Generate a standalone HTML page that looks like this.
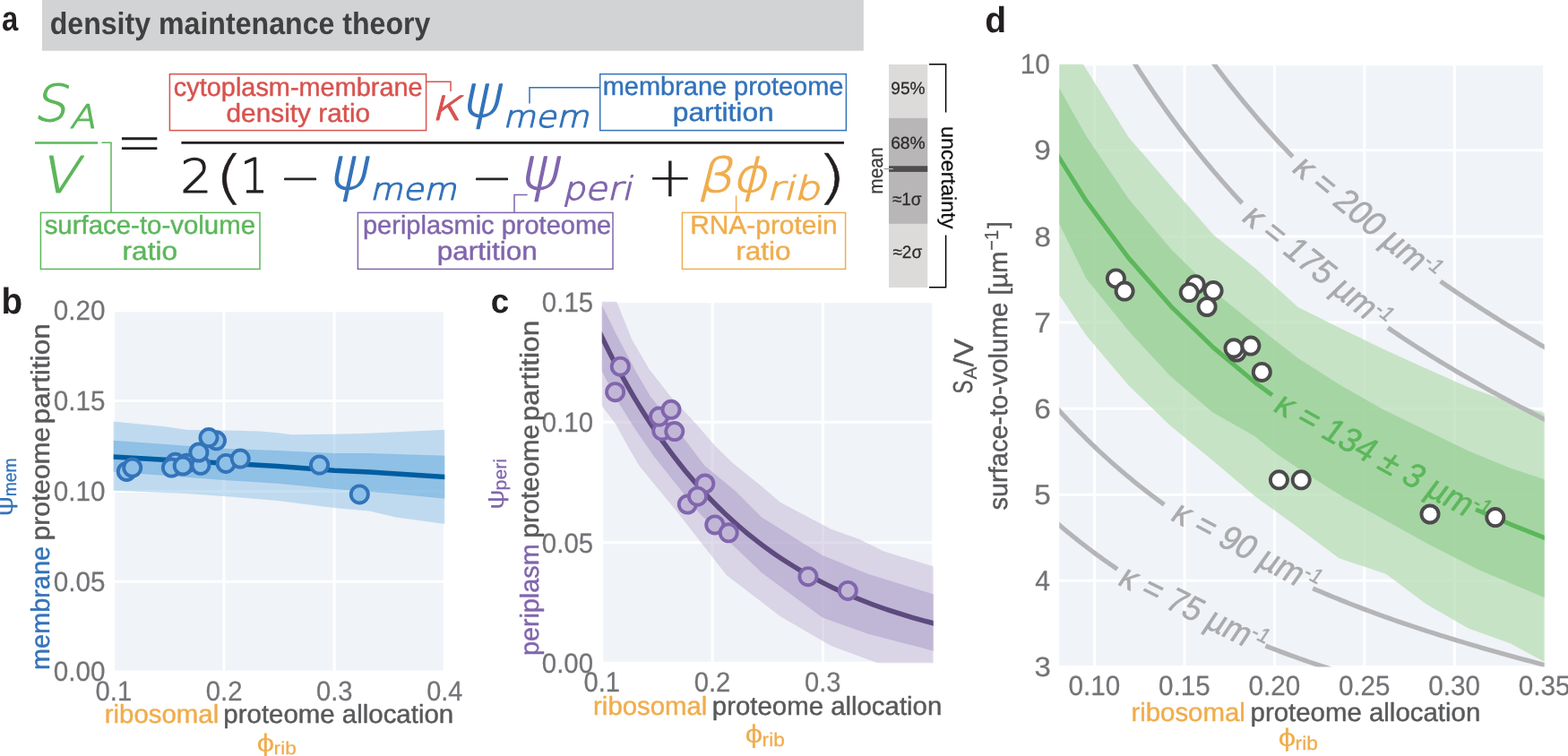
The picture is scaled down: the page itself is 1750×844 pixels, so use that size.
<!DOCTYPE html>
<html lang="en">
<head>
<meta charset="utf-8">
<title>density maintenance theory</title>
<style>html,body{margin:0;padding:0;background:#fff;overflow:hidden}svg{display:block}</style>
</head>
<body>
<svg width="1750" height="844" viewBox="0 0 1750 844">
<rect width="1750" height="844" fill="#ffffff"/>
<rect x="47" y="0" width="916.8" height="56.7" fill="#d1d3d4"/>
<rect x="189.4" y="82.7" width="286.20" height="62.90" fill="none" stroke="#d8534f" stroke-width="1.5"/>
<rect x="669.7" y="82.7" width="274.70" height="62.90" fill="none" stroke="#3373ba" stroke-width="1.5"/>
<rect x="45.4" y="237.4" width="244.60" height="63.00" fill="none" stroke="#5cb75b" stroke-width="1.5"/>
<rect x="399.4" y="237.4" width="284.60" height="63.00" fill="none" stroke="#8066ad" stroke-width="1.5"/>
<rect x="761.4" y="237.4" width="182.20" height="63.00" fill="none" stroke="#f0ad4d" stroke-width="1.5"/>
<path d="M475.6 91.3H503V102" fill="none" stroke="#d8534f" stroke-width="1.5" />
<path d="M591 115.4V97.8H669.7" fill="none" stroke="#3373ba" stroke-width="1.5" />
<path d="M113.4 159.2H124V237.4" fill="none" stroke="#5cb75b" stroke-width="1.5" />
<path d="M588.6 217.4H574V237.4" fill="none" stroke="#8066ad" stroke-width="1.5" />
<path d="M821.6 218.4V237.4" fill="none" stroke="#f0ad4d" stroke-width="1.5" />
<path d="M39 159.4H109" fill="none" stroke="#5cb75b" stroke-width="2.5" />
<path d="M202.4 159.4H942" fill="none" stroke="#231f20" stroke-width="2.6" />
<rect x="992" y="71.9" width="43.2" height="249.1" fill="#dcdbda"/>
<rect x="992" y="131.8" width="43.2" height="118" fill="#b8b6b7"/>
<rect x="992" y="185.3" width="43.2" height="6.6" fill="#4d4d4d"/>
<path d="M986.6 188.6H992" fill="none" stroke="#8a8a8a" stroke-width="1" />
<path d="M992 188.6H996.8" fill="none" stroke="#cfcfcf" stroke-width="1" />
<path d="M1037 71.8H1055.6V125.5" fill="none" stroke="#000" stroke-width="1.5" />
<path d="M1055.6 262.6V320.8H1037" fill="none" stroke="#000" stroke-width="1.5" />
<rect x="126.7" y="346.8" width="369.60" height="403.20" fill="#f0f3f7"/>
<path d="M126.7 345.5V751.3M249.9 345.5V751.3M373.1 345.5V751.3M496.3 345.5V751.3M125.4 750H497.6M125.4 649.2H497.6M125.4 548.4H497.6M125.4 447.6H497.6M125.4 346.8H497.6" stroke="#ffffff" stroke-width="3.0" fill="none"/>
<clipPath id="cl1"><rect x="126.7" y="346.8" width="369.60" height="403.20"/></clipPath>
<g clip-path="url(#cl1)">
<path d="M126 470.5L184 476.2L209.5 480.1L250 480.5L290.6 481.6L310 483.3L325 485.2L373 484.8L412 483.7L497 479.7L497 585L442 577.5L412.3 570.5L373 566.9L310 559L250 554L209 550.9L126 547.7Z" fill="#8ec1e8" fill-opacity="0.5"/>
<path d="M126 491.8L250 500.8L310 502.9L373 506.1L412 506.1L497 508.7L497 556.8L438 550.9L373 546L310 539.8L250 536L126 526.4Z" fill="#5fa6db" fill-opacity="0.5"/>
<path d="M126 509.9L310 520.6L373 525.3L412.3 527L497 532.5" fill="none" stroke="#005da2" stroke-width="5.5" stroke-linejoin="round" />
<circle cx="141.3" cy="526.4" r="9.55" fill="#8ec1e8" stroke="#3373ba" stroke-width="3.9"/>
<circle cx="147.7" cy="522.1" r="9.55" fill="#8ec1e8" stroke="#3373ba" stroke-width="3.9"/>
<circle cx="195.7" cy="516.3" r="9.55" fill="#8ec1e8" stroke="#3373ba" stroke-width="3.9"/>
<circle cx="191.4" cy="522.1" r="9.55" fill="#8ec1e8" stroke="#3373ba" stroke-width="3.9"/>
<circle cx="208.5" cy="517.2" r="9.55" fill="#8ec1e8" stroke="#3373ba" stroke-width="3.9"/>
<circle cx="204.2" cy="520" r="9.55" fill="#8ec1e8" stroke="#3373ba" stroke-width="3.9"/>
<circle cx="224" cy="519.3" r="9.55" fill="#8ec1e8" stroke="#3373ba" stroke-width="3.9"/>
<circle cx="221.9" cy="505" r="9.55" fill="#8ec1e8" stroke="#3373ba" stroke-width="3.9"/>
<circle cx="241.5" cy="491.8" r="9.55" fill="#8ec1e8" stroke="#3373ba" stroke-width="3.9"/>
<circle cx="233" cy="488.6" r="9.55" fill="#8ec1e8" stroke="#3373ba" stroke-width="3.9"/>
<circle cx="252.2" cy="517.4" r="9.55" fill="#8ec1e8" stroke="#3373ba" stroke-width="3.9"/>
<circle cx="268.2" cy="512.1" r="9.55" fill="#8ec1e8" stroke="#3373ba" stroke-width="3.9"/>
<circle cx="356.5" cy="519.1" r="9.55" fill="#8ec1e8" stroke="#3373ba" stroke-width="3.9"/>
<circle cx="401.3" cy="551.9" r="9.55" fill="#8ec1e8" stroke="#3373ba" stroke-width="3.9"/>
</g>
<rect x="671.8" y="336.8" width="369.90" height="403.50" fill="#f0f3f7"/>
<path d="M671.8 335.5V741.6M795.1 335.5V741.6M918.4 335.5V741.6M1041.7 335.5V741.6M670.5 740.3H1043M670.5 605.8H1043M670.5 471.3H1043M670.5 336.8H1043" stroke="#ffffff" stroke-width="3.0" fill="none"/>
<clipPath id="cl2"><rect x="671.8" y="336.8" width="369.90" height="403.50"/></clipPath>
<g clip-path="url(#cl2)">
<path d="M671 300L688.7 337.9L705.5 379.5L724.6 412.2L748.3 442.5L777.5 474L797.8 497.5L817 516.3L850 543L870.7 560.7L927 590.4L959.6 602.2L986.3 615.6L1042 632.4L1042 760L977.4 739.4L927 720.7L870.7 688.1L850 671.9L811 642.2L757.8 574L713.4 520L700 497L687.5 474L671 452Z" fill="#c2b6d6" fill-opacity="0.5"/>
<path d="M671 339L687.5 372.8L710 415.5L725.8 442.5L761.8 487.6L786.5 520L820 547.4L850 577.6L918 620L968.5 640.7L1042 663.6L1042 726.7L968.5 707.4L918 689.6L850 639.3L837.8 627.4L781.5 574L730.3 510L710 480.8L687.5 444.8L671 413Z" fill="#a897c5" fill-opacity="0.5"/>
<path d="M669.33 371.21L675.69 384.29L682.04 396.9L688.39 409.06L694.75 420.8L701.1 432.12L707.45 443.03L713.81 453.56L720.16 463.72L726.51 473.52L732.86 482.97L739.22 492.09L745.57 500.88L751.92 509.36L758.28 517.54L764.63 525.43L770.98 533.04L777.34 540.39L783.69 547.47L790.04 554.3L796.4 560.89L802.75 567.24L809.1 573.38L815.45 579.29L821.81 584.99L828.16 590.49L834.51 595.8L840.87 600.92L847.22 605.86L853.57 610.62L859.93 615.21L866.28 619.65L872.63 623.92L878.99 628.04L885.34 632.02L891.69 635.85L898.05 639.55L904.4 643.12L910.75 646.57L917.1 649.89L923.46 653.09L929.81 656.18L936.16 659.16L942.52 662.03L948.87 664.81L955.22 667.48L961.58 670.06L967.93 672.55L974.28 674.95L980.64 677.26L986.99 679.5L993.34 681.65L999.69 683.73L1006.05 685.73L1012.4 687.67L1018.75 689.53L1025.11 691.33L1031.46 693.06L1037.81 694.74L1044.17 696.35" fill="none" stroke="#5d4a7e" stroke-width="5.5" stroke-linejoin="round" />
<circle cx="686.6" cy="437.7" r="9.55" fill="#c2b6d6" stroke="#8066ad" stroke-width="3.9"/>
<circle cx="692.3" cy="409.2" r="9.55" fill="#c2b6d6" stroke="#8066ad" stroke-width="3.9"/>
<circle cx="738.8" cy="480.9" r="9.55" fill="#c2b6d6" stroke="#8066ad" stroke-width="3.9"/>
<circle cx="735.5" cy="465.1" r="9.55" fill="#c2b6d6" stroke="#8066ad" stroke-width="3.9"/>
<circle cx="749" cy="457.3" r="9.55" fill="#c2b6d6" stroke="#8066ad" stroke-width="3.9"/>
<circle cx="752.8" cy="481.6" r="9.55" fill="#c2b6d6" stroke="#8066ad" stroke-width="3.9"/>
<circle cx="767.3" cy="563.1" r="9.55" fill="#c2b6d6" stroke="#8066ad" stroke-width="3.9"/>
<circle cx="786.8" cy="540" r="9.55" fill="#c2b6d6" stroke="#8066ad" stroke-width="3.9"/>
<circle cx="778.5" cy="554.2" r="9.55" fill="#c2b6d6" stroke="#8066ad" stroke-width="3.9"/>
<circle cx="797.8" cy="585.9" r="9.55" fill="#c2b6d6" stroke="#8066ad" stroke-width="3.9"/>
<circle cx="813.2" cy="594.8" r="9.55" fill="#c2b6d6" stroke="#8066ad" stroke-width="3.9"/>
<circle cx="901.9" cy="643.7" r="9.55" fill="#c2b6d6" stroke="#8066ad" stroke-width="3.9"/>
<circle cx="946.3" cy="659.4" r="9.55" fill="#c2b6d6" stroke="#8066ad" stroke-width="3.9"/>
</g>
<rect x="1182.3" y="71.8" width="541.40" height="672.60" fill="#f0f3f7"/>
<path d="M1221.6 70.5V745.7M1322.02 70.5V745.7M1422.44 70.5V745.7M1522.86 70.5V745.7M1623.28 70.5V745.7M1723.7 70.5V745.7M1181 744.4H1725M1181 648.31H1725M1181 552.22H1725M1181 456.13H1725M1181 360.04H1725M1181 263.95H1725M1181 167.86H1725M1181 71.77H1725" stroke="#ffffff" stroke-width="3.0" fill="none"/>
<clipPath id="cl3"><rect x="1182.3" y="71.8" width="541.40" height="672.60"/></clipPath>
<g clip-path="url(#cl3)">
<path d="M1165 0L1182.3 28L1208.6 71.2L1259.6 153.3L1306.9 208L1354.2 262L1401.5 300L1448.8 343L1496 366.5L1543.4 389.5L1590.7 411L1638 432L1685.3 449L1726 462L1726 740L1686 718.5L1638.8 701.6L1591.5 674.3L1546.8 640.7L1494.5 623.3L1448.8 589L1400 553.6L1354 514.6L1305.6 474.8L1259.6 430.3L1212.3 374.4L1182.4 329.6L1165 303Z" fill="#b8ddb6" fill-opacity="0.75"/>
<path d="M1165 68L1182.3 98.6L1212.3 152L1259.6 222L1306.9 278L1354.2 325L1401.5 363L1448.8 400L1496 430L1543.4 457L1590.7 480L1638 503L1685.3 522.5L1726 536L1726 668L1650 636L1591.5 605.9L1499.5 554.9L1459.7 530L1424.9 506.7L1400 486.8L1352.8 460L1305.6 419.2L1259.6 369.4L1212.3 311L1182.4 250L1165 218Z" fill="#99d097" fill-opacity="0.75"/>
<path d="M1170 -273.82L1174.62 -262.1L1179.25 -250.58L1183.87 -239.26L1188.49 -228.14L1193.12 -217.2L1197.74 -206.46L1202.37 -195.89L1206.99 -185.51L1211.61 -175.29L1216.24 -165.25L1220.86 -155.38L1225.48 -145.67L1230.11 -136.12L1234.73 -126.73L1239.36 -117.49L1243.98 -108.41L1248.6 -99.47L1253.23 -90.67L1257.85 -82.02L1262.47 -73.51L1267.1 -65.13L1271.72 -56.89L1276.35 -48.77L1280.97 -40.79L1285.59 -32.93L1290.22 -25.19L1294.84 -17.57L1299.46 -10.08L1304.09 -2.69L1308.71 4.58L1313.34 11.74L1317.96 18.79L1322.58 25.73L1327.21 32.57L1331.83 39.31L1336.45 45.94L1341.08 52.48L1345.7 58.92L1350.33 65.27L1354.95 71.52L1359.57 77.69L1364.2 83.76L1368.82 89.75L1373.44 95.65L1378.07 101.47L1382.69 107.21L1387.32 112.86L1391.94 118.44L1396.56 123.94L1401.19 129.37L1405.81 134.72L1410.43 139.99L1415.06 145.2L1419.68 150.33L1424.31 155.4L1428.93 160.4L1433.55 165.34L1438.18 170.21L1442.8 175.01" fill="none" stroke="#b5b5b7" stroke-width="5.2" stroke-linejoin="round" />
<path d="M1607.6 314.02L1609.67 315.46L1611.75 316.9L1613.82 318.33L1615.9 319.75L1617.97 321.17L1620.05 322.59L1622.12 323.99L1624.2 325.4L1626.27 326.8L1628.35 328.19L1630.42 329.58L1632.49 330.96L1634.57 332.34L1636.64 333.71L1638.72 335.08L1640.79 336.44L1642.87 337.8L1644.94 339.15L1647.02 340.5L1649.09 341.85L1651.17 343.19L1653.24 344.52L1655.32 345.85L1657.39 347.18L1659.46 348.5L1661.54 349.82L1663.61 351.13L1665.69 352.44L1667.76 353.74L1669.84 355.04L1671.91 356.34L1673.99 357.63L1676.06 358.92L1678.14 360.21L1680.21 361.49L1682.28 362.76L1684.36 364.04L1686.43 365.31L1688.51 366.57L1690.58 367.83L1692.66 369.09L1694.73 370.35L1696.81 371.6L1698.88 372.85L1700.96 374.09L1703.03 375.33L1705.11 376.57L1707.18 377.81L1709.25 379.04L1711.33 380.27L1713.4 381.49L1715.48 382.71L1717.55 383.93L1719.63 385.15L1721.7 386.36L1723.78 387.57L1725.85 388.78L1727.93 389.98L1730 391.19" fill="none" stroke="#b5b5b7" stroke-width="5.2" stroke-linejoin="round" />
<path d="M1170 -110.51L1173.67 -102.36L1177.34 -94.32L1181 -86.39L1184.67 -78.58L1188.34 -70.86L1192.01 -63.26L1195.67 -55.75L1199.34 -48.35L1203.01 -41.05L1206.68 -33.84L1210.35 -26.73L1214.01 -19.72L1217.68 -12.8L1221.35 -5.97L1225.02 0.77L1228.68 7.42L1232.35 13.98L1236.02 20.46L1239.69 26.85L1243.36 33.16L1247.02 39.39L1250.69 45.54L1254.36 51.61L1258.03 57.6L1261.69 63.52L1265.36 69.36L1269.03 75.12L1272.7 80.82L1276.37 86.44L1280.03 91.99L1283.7 97.47L1287.37 102.88L1291.04 108.23L1294.71 113.51L1298.37 118.73L1302.04 123.88L1305.71 128.97L1309.38 133.99L1313.04 138.96L1316.71 143.87L1320.38 148.71L1324.05 153.5L1327.72 158.23L1331.38 162.91L1335.05 167.53L1338.72 172.1L1342.39 176.61L1346.05 181.07L1349.72 185.47L1353.39 189.83L1357.06 194.14L1360.73 198.39L1364.39 202.6L1368.06 206.76L1371.73 210.87L1375.4 214.94L1379.06 218.96L1382.73 222.94L1386.4 226.87" fill="none" stroke="#b5b5b7" stroke-width="5.2" stroke-linejoin="round" />
<path d="M1549 365.9L1552.07 368.01L1555.14 370.1L1558.2 372.18L1561.27 374.25L1564.34 376.3L1567.41 378.33L1570.47 380.36L1573.54 382.37L1576.61 384.37L1579.68 386.35L1582.75 388.32L1585.81 390.28L1588.88 392.23L1591.95 394.16L1595.02 396.08L1598.08 397.99L1601.15 399.89L1604.22 401.78L1607.29 403.66L1610.36 405.52L1613.42 407.38L1616.49 409.22L1619.56 411.06L1622.63 412.88L1625.69 414.69L1628.76 416.49L1631.83 418.29L1634.9 420.07L1637.97 421.84L1641.03 423.61L1644.1 425.36L1647.17 427.11L1650.24 428.85L1653.31 430.58L1656.37 432.3L1659.44 434.01L1662.51 435.71L1665.58 437.41L1668.64 439.09L1671.71 440.77L1674.78 442.44L1677.85 444.11L1680.92 445.77L1683.98 447.41L1687.05 449.06L1690.12 450.69L1693.19 452.32L1696.25 453.94L1699.32 455.56L1702.39 457.17L1705.46 458.77L1708.53 460.36L1711.59 461.95L1714.66 463.54L1717.73 465.12L1720.8 466.69L1723.86 468.25L1726.93 469.82L1730 471.37" fill="none" stroke="#b5b5b7" stroke-width="5.2" stroke-linejoin="round" />
<path d="M1170 444.75L1172.19 447.26L1174.39 449.76L1176.58 452.23L1178.77 454.68L1180.97 457.11L1183.16 459.52L1185.35 461.91L1187.55 464.29L1189.74 466.64L1191.93 468.97L1194.13 471.29L1196.32 473.58L1198.51 475.86L1200.71 478.12L1202.9 480.36L1205.09 482.58L1207.28 484.79L1209.48 486.97L1211.67 489.14L1213.86 491.3L1216.06 493.43L1218.25 495.55L1220.44 497.65L1222.64 499.74L1224.83 501.8L1227.02 503.86L1229.22 505.89L1231.41 507.91L1233.6 509.92L1235.8 511.9L1237.99 513.88L1240.18 515.83L1242.38 517.78L1244.57 519.7L1246.76 521.62L1248.96 523.51L1251.15 525.4L1253.34 527.26L1255.54 529.12L1257.73 530.96L1259.92 532.78L1262.12 534.59L1264.31 536.39L1266.5 538.18L1268.69 539.95L1270.89 541.7L1273.08 543.45L1275.27 545.18L1277.47 546.9L1279.66 548.6L1281.85 550.3L1284.05 551.97L1286.24 553.64L1288.43 555.3L1290.63 556.94L1292.82 558.57L1295.01 560.19L1297.21 561.79L1299.4 563.39" fill="none" stroke="#b5b5b7" stroke-width="5.2" stroke-linejoin="round" />
<path d="M1465.2 656.82L1469.69 658.77L1474.18 660.69L1478.66 662.6L1483.15 664.48L1487.64 666.34L1492.13 668.17L1496.62 669.99L1501.11 671.78L1505.59 673.56L1510.08 675.32L1514.57 677.05L1519.06 678.77L1523.55 680.47L1528.03 682.15L1532.52 683.81L1537.01 685.45L1541.5 687.08L1545.99 688.69L1550.47 690.28L1554.96 691.86L1559.45 693.42L1563.94 694.97L1568.43 696.5L1572.92 698.02L1577.4 699.52L1581.89 701.01L1586.38 702.48L1590.87 703.94L1595.36 705.39L1599.84 706.83L1604.33 708.25L1608.82 709.66L1613.31 711.06L1617.8 712.44L1622.28 713.82L1626.77 715.18L1631.26 716.53L1635.75 717.87L1640.24 719.2L1644.73 720.52L1649.21 721.84L1653.7 723.14L1658.19 724.43L1662.68 725.71L1667.17 726.98L1671.65 728.25L1676.14 729.51L1680.63 730.75L1685.12 731.99L1689.61 733.23L1694.09 734.45L1698.58 735.67L1703.07 736.88L1707.56 738.08L1712.05 739.28L1716.54 740.47L1721.02 741.65L1725.51 742.83L1730 744" fill="none" stroke="#b5b5b7" stroke-width="5.2" stroke-linejoin="round" />
<path d="M1170 575.4L1171.31 576.57L1172.61 577.73L1173.92 578.88L1175.23 580.03L1176.53 581.17L1177.84 582.31L1179.15 583.45L1180.45 584.57L1181.76 585.69L1183.07 586.81L1184.37 587.92L1185.68 589.03L1186.99 590.13L1188.29 591.22L1189.6 592.31L1190.91 593.39L1192.22 594.47L1193.52 595.54L1194.83 596.61L1196.14 597.68L1197.44 598.73L1198.75 599.79L1200.06 600.83L1201.36 601.88L1202.67 602.91L1203.98 603.95L1205.28 604.97L1206.59 606L1207.9 607.01L1209.2 608.03L1210.51 609.04L1211.82 610.04L1213.12 611.04L1214.43 612.03L1215.74 613.02L1217.04 614L1218.35 614.98L1219.66 615.96L1220.96 616.93L1222.27 617.9L1223.58 618.86L1224.88 619.81L1226.19 620.77L1227.5 621.71L1228.81 622.66L1230.11 623.6L1231.42 624.53L1232.73 625.46L1234.03 626.39L1235.34 627.31L1236.65 628.22L1237.95 629.14L1239.26 630.05L1240.57 630.95L1241.87 631.85L1243.18 632.75L1244.49 633.64L1245.79 634.53L1247.1 635.41" fill="none" stroke="#b5b5b7" stroke-width="5.2" stroke-linejoin="round" />
<path d="M1412.4 721.01L1417.78 723.12L1423.17 725.19L1428.55 727.23L1433.93 729.24L1439.32 731.22L1444.7 733.17L1450.08 735.1L1455.46 736.99L1460.85 738.85L1466.23 740.69L1471.61 742.5L1477 744.29L1482.38 746.05L1487.76 747.78L1493.15 749.49L1498.53 751.18L1503.91 752.85L1509.29 754.49L1514.68 756.11L1520.06 757.71L1525.44 759.29L1530.83 760.85L1536.21 762.38L1541.59 763.9L1546.98 765.4L1552.36 766.89L1557.74 768.35L1563.13 769.8L1568.51 771.23L1573.89 772.64L1579.27 774.04L1584.66 775.42L1590.04 776.79L1595.42 778.14L1600.81 779.47L1606.19 780.8L1611.57 782.11L1616.96 783.4L1622.34 784.69L1627.72 785.96L1633.11 787.21L1638.49 788.46L1643.87 789.7L1649.25 790.92L1654.64 792.13L1660.02 793.33L1665.4 794.53L1670.79 795.71L1676.17 796.88L1681.55 798.05L1686.94 799.2L1692.32 800.35L1697.7 801.48L1703.08 802.61L1708.47 803.74L1713.85 804.85L1719.23 805.96L1724.62 807.06L1730 808.15" fill="none" stroke="#b5b5b7" stroke-width="5.2" stroke-linejoin="round" />
<path d="M1170 156.67L1212.3 224.34L1259.6 288L1306.9 341.95L1354.2 388.03L1401.5 427.7L1419.9 441.1" fill="none" stroke="#5cb75b" stroke-width="5.0" stroke-linejoin="round" />
<path d="M1647 568.79L1685.3 585.07L1730 602.85" fill="none" stroke="#5cb75b" stroke-width="5.0" stroke-linejoin="round" />
<circle cx="1245.4" cy="310.9" r="9.55" fill="#ffffff" stroke="#4c4b4c" stroke-width="3.9"/>
<circle cx="1255.1" cy="325.1" r="9.55" fill="#ffffff" stroke="#4c4b4c" stroke-width="3.9"/>
<circle cx="1334.2" cy="317.7" r="9.55" fill="#ffffff" stroke="#4c4b4c" stroke-width="3.9"/>
<circle cx="1327.2" cy="326.6" r="9.55" fill="#ffffff" stroke="#4c4b4c" stroke-width="3.9"/>
<circle cx="1354.1" cy="324.6" r="9.55" fill="#ffffff" stroke="#4c4b4c" stroke-width="3.9"/>
<circle cx="1347.1" cy="342.5" r="9.55" fill="#ffffff" stroke="#4c4b4c" stroke-width="3.9"/>
<circle cx="1380.2" cy="393" r="9.55" fill="#ffffff" stroke="#4c4b4c" stroke-width="3.9"/>
<circle cx="1377" cy="388.8" r="9.55" fill="#ffffff" stroke="#4c4b4c" stroke-width="3.9"/>
<circle cx="1395.9" cy="386.1" r="9.55" fill="#ffffff" stroke="#4c4b4c" stroke-width="3.9"/>
<circle cx="1408.3" cy="415.4" r="9.55" fill="#ffffff" stroke="#4c4b4c" stroke-width="3.9"/>
<circle cx="1427.4" cy="535.8" r="9.55" fill="#ffffff" stroke="#4c4b4c" stroke-width="3.9"/>
<circle cx="1452.2" cy="535.8" r="9.55" fill="#ffffff" stroke="#4c4b4c" stroke-width="3.9"/>
<circle cx="1596" cy="574" r="9.55" fill="#ffffff" stroke="#4c4b4c" stroke-width="3.9"/>
<circle cx="1668.8" cy="577.6" r="9.55" fill="#ffffff" stroke="#4c4b4c" stroke-width="3.9"/>
</g>
<g xml:space="preserve" text-rendering="geometricPrecision">
<text transform="translate(2.06 33.78) scale(0.7995 0.9464)" font-family="Liberation Sans, sans-serif" font-size="41" fill="#231f20" font-weight="bold">a</text>
<text transform="translate(1.52 349.56) scale(0.9437 0.9943)" font-family="Liberation Sans, sans-serif" font-size="41" fill="#231f20" font-weight="bold">b</text>
<text transform="translate(547.83 349.18) scale(0.8961 0.9198)" font-family="Liberation Sans, sans-serif" font-size="41" fill="#231f20" font-weight="bold">c</text>
<text transform="translate(1099.16 36.14) scale(0.9520 0.9836)" font-family="Liberation Sans, sans-serif" font-size="41" fill="#231f20" font-weight="bold">d</text>
<text transform="translate(55.65 38) scale(0.9177 0.9901)" font-family="Liberation Sans, sans-serif" font-size="35" fill="#404041" font-weight="bold">density maintenance theory</text>
<text transform="translate(193.84 107.1) scale(0.9963 1.0000)" font-family="Liberation Sans, sans-serif" font-size="29" fill="#d8534f" stroke="#d8534f" stroke-width="0.45" stroke-linejoin="round">cytoplasm-membrane</text>
<text transform="translate(252.52 136.2) scale(1.0275 1.0000)" font-family="Liberation Sans, sans-serif" font-size="29" fill="#d8534f" stroke="#d8534f" stroke-width="0.45" stroke-linejoin="round">density ratio</text>
<text transform="translate(672.77 105.5) scale(0.9977 1.0000)" font-family="Liberation Sans, sans-serif" font-size="29" fill="#3373ba" stroke="#3373ba" stroke-width="0.45" stroke-linejoin="round">membrane proteome</text>
<text transform="translate(750.72 134.5) scale(1.0954 1.0000)" font-family="Liberation Sans, sans-serif" font-size="29" fill="#3373ba" stroke="#3373ba" stroke-width="0.45" stroke-linejoin="round">partition</text>
<text transform="translate(49.66 261) scale(1.0143 1.0000)" font-family="Liberation Sans, sans-serif" font-size="29" fill="#5cb75b" stroke="#5cb75b" stroke-width="0.45" stroke-linejoin="round">surface-to-volume</text>
<text transform="translate(136.55 290.4) scale(1.0910 1.0000)" font-family="Liberation Sans, sans-serif" font-size="29" fill="#5cb75b" stroke="#5cb75b" stroke-width="0.45" stroke-linejoin="round">ratio</text>
<text transform="translate(404.98 261) scale(0.9999 1.0000)" font-family="Liberation Sans, sans-serif" font-size="29" fill="#8066ad" stroke="#8066ad" stroke-width="0.45" stroke-linejoin="round">periplasmic proteome</text>
<text transform="translate(487.64 290.4) scale(1.0864 1.0000)" font-family="Liberation Sans, sans-serif" font-size="29" fill="#8066ad" stroke="#8066ad" stroke-width="0.45" stroke-linejoin="round">partition</text>
<text transform="translate(770.15 261) scale(1.0315 1.0000)" font-family="Liberation Sans, sans-serif" font-size="29" fill="#f0ad4d" stroke="#f0ad4d" stroke-width="0.45" stroke-linejoin="round">RNA-protein</text>
<text transform="translate(821.15 290.4) scale(1.0910 1.0000)" font-family="Liberation Sans, sans-serif" font-size="29" fill="#f0ad4d" stroke="#f0ad4d" stroke-width="0.45" stroke-linejoin="round">ratio</text>
<text transform="translate(36.97 135.02) scale(0.9722 0.9424) skewX(-12)" font-family="DejaVu Sans, sans-serif" font-size="60" fill="#5cb75b" font-weight="200" stroke="#5cb75b" stroke-width="1.25" stroke-linejoin="round">S</text>
<text transform="translate(77.66 142.76) scale(0.9763 0.8692) skewX(-12)" font-family="DejaVu Sans, sans-serif" font-size="42" fill="#5cb75b" font-weight="200" stroke="#5cb75b" stroke-width="1.4" stroke-linejoin="round">A</text>
<text transform="translate(44.27 215.32) scale(1.0185 0.9337) skewX(-12)" font-family="DejaVu Sans, sans-serif" font-size="60" fill="#5cb75b" font-weight="200" stroke="#5cb75b" stroke-width="1.25" stroke-linejoin="round">V</text>
<text transform="translate(129.31 181.77) scale(1.0497 1.1591)" font-family="DejaVu Sans, sans-serif" font-size="60" fill="#231f20" font-weight="200">=</text>
<text transform="translate(201.14 214.96) scale(0.9222 0.8706)" font-family="DejaVu Sans, sans-serif" font-size="60" fill="#231f20" font-weight="200" stroke="#231f20" stroke-width="1.25" stroke-linejoin="round">2</text>
<text transform="translate(238.86 220.14) scale(1.4509 1.0735)" font-family="DejaVu Sans, sans-serif" font-size="60" fill="#231f20" font-weight="200" stroke="#231f20" stroke-width="0.5" stroke-linejoin="round">(</text>
<text transform="translate(268.15 214.95) scale(0.8125 0.8892)" font-family="DejaVu Sans, sans-serif" font-size="60" fill="#231f20" font-weight="200" stroke="#231f20" stroke-width="1.25" stroke-linejoin="round">1</text>
<text transform="translate(311.68 212.74) scale(0.9278 0.6964)" font-family="DejaVu Sans, sans-serif" font-size="60" fill="#231f20" font-weight="200" stroke="#231f20" stroke-width="1.25" stroke-linejoin="round">−</text>
<text transform="translate(366.48 211.14) scale(1.0849 1.0970) skewX(-12)" font-family="DejaVu Sans, sans-serif" font-size="60" fill="#3373ba" font-weight="200" stroke="#3373ba" stroke-width="1.25" stroke-linejoin="round">ψ</text>
<text transform="translate(412.87 222.59) scale(0.8956 0.8085) skewX(-12)" font-family="DejaVu Sans, sans-serif" font-size="42" fill="#3373ba" font-weight="200" stroke="#3373ba" stroke-width="1.4" stroke-linejoin="round">mem</text>
<text transform="translate(525.68 212.74) scale(0.9278 0.6964)" font-family="DejaVu Sans, sans-serif" font-size="60" fill="#231f20" font-weight="200" stroke="#231f20" stroke-width="1.25" stroke-linejoin="round">−</text>
<text transform="translate(579.88 211.14) scale(1.0849 1.0970) skewX(-12)" font-family="DejaVu Sans, sans-serif" font-size="60" fill="#8066ad" font-weight="200" stroke="#8066ad" stroke-width="1.25" stroke-linejoin="round">ψ</text>
<text transform="translate(627.81 223.36) scale(0.9457 0.8575) skewX(-12)" font-family="DejaVu Sans, sans-serif" font-size="42" fill="#8066ad" font-weight="200" stroke="#8066ad" stroke-width="1.4" stroke-linejoin="round">peri</text>
<text transform="translate(721.45 219.34) scale(1.0473 1.0457)" font-family="DejaVu Sans, sans-serif" font-size="60" fill="#231f20" font-weight="200" stroke="#231f20" stroke-width="0.3" stroke-linejoin="round">+</text>
<text transform="translate(778.04 214.03) scale(1.0400 0.8747) skewX(-12)" font-family="DejaVu Sans, sans-serif" font-size="60" fill="#f0ad4d" font-weight="200" stroke="#f0ad4d" stroke-width="1.25" stroke-linejoin="round">β</text>
<text transform="translate(816.55 214.16) scale(1.0015 0.8644) skewX(-12)" font-family="DejaVu Sans, sans-serif" font-size="60" fill="#f0ad4d" font-weight="200" stroke="#f0ad4d" stroke-width="1.25" stroke-linejoin="round">ϕ</text>
<text transform="translate(855.52 222.53) scale(1.0652 0.8780) skewX(-12)" font-family="DejaVu Sans, sans-serif" font-size="42" fill="#f0ad4d" font-weight="200" stroke="#f0ad4d" stroke-width="1.4" stroke-linejoin="round">rib</text>
<text transform="translate(910.26 220.14) scale(1.5227 1.0740)" font-family="DejaVu Sans, sans-serif" font-size="60" fill="#231f20" font-weight="200" stroke="#231f20" stroke-width="0.5" stroke-linejoin="round">)</text>
<text transform="translate(480.49 133.79) scale(0.9739 0.8298) skewX(-12)" font-family="DejaVu Sans, sans-serif" font-size="60" fill="#d8534f" font-weight="200" stroke="#d8534f" stroke-width="1.25" stroke-linejoin="round">κ</text>
<text transform="translate(514.88 129.74) scale(1.0849 1.0970) skewX(-12)" font-family="DejaVu Sans, sans-serif" font-size="60" fill="#3373ba" font-weight="200" stroke="#3373ba" stroke-width="1.25" stroke-linejoin="round">ψ</text>
<text transform="translate(561.28 141.99) scale(0.8917 0.8085) skewX(-12)" font-family="DejaVu Sans, sans-serif" font-size="42" fill="#3373ba" font-weight="200" stroke="#3373ba" stroke-width="1.4" stroke-linejoin="round">mem</text>
<text transform="translate(994.33 105.1) scale(1.0058 1.0158)" font-family="Liberation Sans, sans-serif" font-size="19" fill="#2b2b2b" stroke="#2b2b2b" stroke-width="0.25" stroke-linejoin="round">95%</text>
<text transform="translate(994.14 165.7) scale(1.0135 1.0066)" font-family="Liberation Sans, sans-serif" font-size="19" fill="#2b2b2b" stroke="#2b2b2b" stroke-width="0.25" stroke-linejoin="round">68%</text>
<text transform="translate(995.89 228.7) scale(0.9981 1.0490)" font-family="Liberation Sans, sans-serif" font-size="19" fill="#2b2b2b" stroke="#2b2b2b" stroke-width="0.25" stroke-linejoin="round">≈1σ</text>
<text transform="translate(996.38 288.3) scale(1.0012 1.0364)" font-family="Liberation Sans, sans-serif" font-size="19" fill="#2b2b2b" stroke="#2b2b2b" stroke-width="0.25" stroke-linejoin="round">≈2σ</text>
<text transform="translate(984.6 216.83) rotate(-90) scale(0.9980 1.0519)" font-family="Liberation Sans, sans-serif" font-size="21" fill="#3c3c3c" stroke="#3c3c3c" stroke-width="0.25" stroke-linejoin="round">mean</text>
<text transform="translate(1051.3 141) rotate(90) scale(1.0169 1.0000)" font-family="Liberation Sans, sans-serif" font-size="23" fill="#111111" stroke="#111111" stroke-width="0.25" stroke-linejoin="round">uncertainty</text>
<text transform="translate(59.82 357.2) scale(1.0232 1.0635)" font-family="Liberation Sans, sans-serif" font-size="29" fill="#737477" stroke="#737477" stroke-width="0.25" stroke-linejoin="round">0.20</text>
<text transform="translate(59.81 458) scale(1.0246 1.0684)" font-family="Liberation Sans, sans-serif" font-size="29" fill="#737477" stroke="#737477" stroke-width="0.25" stroke-linejoin="round">0.15</text>
<text transform="translate(59.82 558.8) scale(1.0232 1.0658)" font-family="Liberation Sans, sans-serif" font-size="29" fill="#737477" stroke="#737477" stroke-width="0.25" stroke-linejoin="round">0.10</text>
<text transform="translate(59.81 659.6) scale(1.0246 1.0658)" font-family="Liberation Sans, sans-serif" font-size="29" fill="#737477" stroke="#737477" stroke-width="0.25" stroke-linejoin="round">0.05</text>
<text transform="translate(59.82 760.4) scale(1.0232 1.0658)" font-family="Liberation Sans, sans-serif" font-size="29" fill="#737477" stroke="#737477" stroke-width="0.25" stroke-linejoin="round">0.00</text>
<text transform="translate(106.53 781.7) scale(1.0096 1.0684)" font-family="Liberation Sans, sans-serif" font-size="29" fill="#737477" stroke="#737477" stroke-width="0.25" stroke-linejoin="round">0.1</text>
<text transform="translate(229.73 781.7) scale(1.0108 1.0635)" font-family="Liberation Sans, sans-serif" font-size="29" fill="#737477" stroke="#737477" stroke-width="0.25" stroke-linejoin="round">0.2</text>
<text transform="translate(352.94 781.7) scale(1.0060 1.0637)" font-family="Liberation Sans, sans-serif" font-size="29" fill="#737477" stroke="#737477" stroke-width="0.25" stroke-linejoin="round">0.3</text>
<text transform="translate(476.15 781.7) scale(0.9952 1.0684)" font-family="Liberation Sans, sans-serif" font-size="29" fill="#737477" stroke="#737477" stroke-width="0.25" stroke-linejoin="round">0.4</text>
<text transform="translate(116.78 807) scale(1.0132 1.0000)" font-family="Liberation Sans, sans-serif" font-size="29" fill="#f0ad4d" stroke="#f0ad4d" stroke-width="0.45" stroke-linejoin="round">ribosomal</text>
<text transform="translate(249.35 807) scale(1.0146 1.0000)" font-family="Liberation Sans, sans-serif" font-size="29" fill="#58595b" stroke="#58595b" stroke-width="0.45" stroke-linejoin="round">proteome allocation</text>
<text transform="translate(286.43 838.51) scale(1.2260 0.9815)" font-family="Liberation Sans, sans-serif" font-size="29" fill="#f0ad4d">ϕ</text>
<text transform="translate(305.61 842) scale(1.0810 0.9586)" font-family="Liberation Sans, sans-serif" font-size="21" fill="#f0ad4d" stroke="#f0ad4d" stroke-width="0.3" stroke-linejoin="round">rib</text>
<text transform="translate(55.3 747.92) rotate(-90) scale(0.9948 1.0000)" font-family="Liberation Sans, sans-serif" font-size="29" fill="#3373ba" stroke="#3373ba" stroke-width="0.45" stroke-linejoin="round">membrane</text>
<text transform="translate(55.3 603.48) rotate(-90) scale(1.0349 1.0000)" font-family="Liberation Sans, sans-serif" font-size="29" fill="#58595b" stroke="#58595b" stroke-width="0.45" stroke-linejoin="round">proteome</text>
<text transform="translate(55.3 473.16) rotate(-90) scale(1.0844 1.0000)" font-family="Liberation Sans, sans-serif" font-size="29" fill="#58595b" stroke="#58595b" stroke-width="0.45" stroke-linejoin="round">partition</text>
<text transform="translate(14.25 576.26) rotate(-90) scale(1.0816 0.9080)" font-family="Liberation Sans, sans-serif" font-size="29" fill="#3373ba">ψ</text>
<text transform="translate(17.9 554.28) rotate(-90) scale(0.9210 0.9646)" font-family="Liberation Sans, sans-serif" font-size="21" fill="#3373ba" stroke="#3373ba" stroke-width="0.3" stroke-linejoin="round">mem</text>
<text transform="translate(604.83 347.7) scale(1.0153 1.0684)" font-family="Liberation Sans, sans-serif" font-size="29" fill="#737477" stroke="#737477" stroke-width="0.25" stroke-linejoin="round">0.15</text>
<text transform="translate(604.83 482.2) scale(1.0140 1.0658)" font-family="Liberation Sans, sans-serif" font-size="29" fill="#737477" stroke="#737477" stroke-width="0.25" stroke-linejoin="round">0.10</text>
<text transform="translate(604.83 616.7) scale(1.0153 1.0658)" font-family="Liberation Sans, sans-serif" font-size="29" fill="#737477" stroke="#737477" stroke-width="0.25" stroke-linejoin="round">0.05</text>
<text transform="translate(604.83 751.2) scale(1.0140 1.0658)" font-family="Liberation Sans, sans-serif" font-size="29" fill="#737477" stroke="#737477" stroke-width="0.25" stroke-linejoin="round">0.00</text>
<text transform="translate(651.44 771.6) scale(1.0069 1.0734)" font-family="Liberation Sans, sans-serif" font-size="29" fill="#737477" stroke="#737477" stroke-width="0.25" stroke-linejoin="round">0.1</text>
<text transform="translate(774.73 771.6) scale(1.0082 1.0684)" font-family="Liberation Sans, sans-serif" font-size="29" fill="#737477" stroke="#737477" stroke-width="0.25" stroke-linejoin="round">0.2</text>
<text transform="translate(898.04 771.6) scale(1.0034 1.0686)" font-family="Liberation Sans, sans-serif" font-size="29" fill="#737477" stroke="#737477" stroke-width="0.25" stroke-linejoin="round">0.3</text>
<text transform="translate(662.09 797.9) scale(1.0116 1.0000)" font-family="Liberation Sans, sans-serif" font-size="29" fill="#f0ad4d" stroke="#f0ad4d" stroke-width="0.45" stroke-linejoin="round">ribosomal</text>
<text transform="translate(794.86 797.9) scale(1.0130 1.0000)" font-family="Liberation Sans, sans-serif" font-size="29" fill="#58595b" stroke="#58595b" stroke-width="0.45" stroke-linejoin="round">proteome allocation</text>
<text transform="translate(831.43 828.97) scale(1.2260 0.9889)" font-family="Liberation Sans, sans-serif" font-size="29" fill="#f0ad4d">ϕ</text>
<text transform="translate(850.61 832.9) scale(1.0810 1.0104)" font-family="Liberation Sans, sans-serif" font-size="21" fill="#f0ad4d" stroke="#f0ad4d" stroke-width="0.3" stroke-linejoin="round">rib</text>
<text transform="translate(600.5 732.11) rotate(-90) scale(0.9922 1.0000)" font-family="Liberation Sans, sans-serif" font-size="29" fill="#8066ad" stroke="#8066ad" stroke-width="0.45" stroke-linejoin="round">periplasm</text>
<text transform="translate(600.5 600.68) rotate(-90) scale(1.0349 1.0000)" font-family="Liberation Sans, sans-serif" font-size="29" fill="#58595b" stroke="#58595b" stroke-width="0.45" stroke-linejoin="round">proteome</text>
<text transform="translate(600.5 470.37) rotate(-90) scale(1.0924 1.0000)" font-family="Liberation Sans, sans-serif" font-size="29" fill="#58595b" stroke="#58595b" stroke-width="0.45" stroke-linejoin="round">partition</text>
<text transform="translate(561.6 568.75) rotate(-90) scale(1.0756 0.9000)" font-family="Liberation Sans, sans-serif" font-size="29" fill="#8066ad">ψ</text>
<text transform="translate(564.66 547.41) rotate(-90) scale(1.0125 0.9558)" font-family="Liberation Sans, sans-serif" font-size="21" fill="#8066ad" stroke="#8066ad" stroke-width="0.3" stroke-linejoin="round">peri</text>
<g transform="translate(1441.9 191.3) rotate(39.5)"><text transform="translate(-2.17 0) scale(1.0854 1.1700) skewX(-8)" font-family="Liberation Sans, sans-serif" font-size="33" fill="#aaaaac" stroke="#aaaaac" stroke-width="0.5" stroke-linejoin="round">κ = 200 µm</text></g>
<g transform="translate(1441.9 191.3) rotate(39.5)"><text transform="translate(177.5 -13.28) scale(1.0547 1.1330) skewX(-8)" font-family="Liberation Sans, sans-serif" font-size="21" fill="#aaaaac" stroke="#aaaaac" stroke-width="0.4" stroke-linejoin="round">-1</text></g>
<g transform="translate(1385.9 246) rotate(39)"><text transform="translate(-2.17 0) scale(1.0854 1.1700) skewX(-8)" font-family="Liberation Sans, sans-serif" font-size="33" fill="#aaaaac" stroke="#aaaaac" stroke-width="0.5" stroke-linejoin="round">κ = 175 µm</text></g>
<g transform="translate(1385.9 246) rotate(39)"><text transform="translate(177.5 -13.28) scale(1.0547 1.1330) skewX(-8)" font-family="Liberation Sans, sans-serif" font-size="21" fill="#aaaaac" stroke="#aaaaac" stroke-width="0.4" stroke-linejoin="round">-1</text></g>
<g transform="translate(1306.7 580.5) rotate(28)"><text transform="translate(-2.18 0) scale(1.0919 1.1700) skewX(-8)" font-family="Liberation Sans, sans-serif" font-size="33" fill="#aaaaac" stroke="#aaaaac" stroke-width="0.5" stroke-linejoin="round">κ = 90 µm</text></g>
<g transform="translate(1306.7 580.5) rotate(28)"><text transform="translate(158.5 -13.28) scale(1.0547 1.1330) skewX(-8)" font-family="Liberation Sans, sans-serif" font-size="21" fill="#aaaaac" stroke="#aaaaac" stroke-width="0.4" stroke-linejoin="round">-1</text></g>
<g transform="translate(1247.7 652.6) rotate(26.3)"><text transform="translate(-2.16 0) scale(1.0815 1.1700) skewX(-8)" font-family="Liberation Sans, sans-serif" font-size="33" fill="#aaaaac" stroke="#aaaaac" stroke-width="0.5" stroke-linejoin="round">κ = 75 µm</text></g>
<g transform="translate(1247.7 652.6) rotate(26.3)"><text transform="translate(157 -13.28) scale(1.0547 1.1330) skewX(-8)" font-family="Liberation Sans, sans-serif" font-size="21" fill="#aaaaac" stroke="#aaaaac" stroke-width="0.4" stroke-linejoin="round">-1</text></g>
<g transform="translate(1421.3 458.8) rotate(29)"><text transform="translate(-2.23 0) scale(1.1189 1.1700) skewX(-8)" font-family="Liberation Sans, sans-serif" font-size="33" fill="#5cb75b" stroke="#5cb75b" stroke-width="0.5" stroke-linejoin="round">κ = 134 ± 3 µm</text></g>
<g transform="translate(1421.3 458.8) rotate(29)"><text transform="translate(244.5 -13.28) scale(1.0547 1.1330) skewX(-8)" font-family="Liberation Sans, sans-serif" font-size="21" fill="#5cb75b" stroke="#5cb75b" stroke-width="0.4" stroke-linejoin="round">-1</text></g>
<text transform="translate(1154.46 755) scale(1.1345 1.0652)" font-family="Liberation Sans, sans-serif" font-size="29" fill="#737477" stroke="#737477" stroke-width="0.25" stroke-linejoin="round">3</text>
<text transform="translate(1155.28 658.91) scale(1.0366 1.0850)" font-family="Liberation Sans, sans-serif" font-size="29" fill="#737477" stroke="#737477" stroke-width="0.25" stroke-linejoin="round">4</text>
<text transform="translate(1154.18 562.82) scale(1.1507 1.0850)" font-family="Liberation Sans, sans-serif" font-size="29" fill="#737477" stroke="#737477" stroke-width="0.25" stroke-linejoin="round">5</text>
<text transform="translate(1154.22 466.73) scale(1.1507 1.0652)" font-family="Liberation Sans, sans-serif" font-size="29" fill="#737477" stroke="#737477" stroke-width="0.25" stroke-linejoin="round">6</text>
<text transform="translate(1154.28 370.64) scale(1.1510 1.0850)" font-family="Liberation Sans, sans-serif" font-size="29" fill="#737477" stroke="#737477" stroke-width="0.25" stroke-linejoin="round">7</text>
<text transform="translate(1154.38 274.55) scale(1.1390 1.0652)" font-family="Liberation Sans, sans-serif" font-size="29" fill="#737477" stroke="#737477" stroke-width="0.25" stroke-linejoin="round">8</text>
<text transform="translate(1154.31 178.46) scale(1.1513 1.0680)" font-family="Liberation Sans, sans-serif" font-size="29" fill="#737477" stroke="#737477" stroke-width="0.25" stroke-linejoin="round">9</text>
<text transform="translate(1138.67 82.37) scale(1.0297 1.0658)" font-family="Liberation Sans, sans-serif" font-size="29" fill="#737477" stroke="#737477" stroke-width="0.25" stroke-linejoin="round">10</text>
<text transform="translate(1192.62 775.9) scale(1.0214 1.0658)" font-family="Liberation Sans, sans-serif" font-size="29" fill="#737477" stroke="#737477" stroke-width="0.25" stroke-linejoin="round">0.10</text>
<text transform="translate(1293.04 775.9) scale(1.0227 1.0684)" font-family="Liberation Sans, sans-serif" font-size="29" fill="#737477" stroke="#737477" stroke-width="0.25" stroke-linejoin="round">0.15</text>
<text transform="translate(1393.46 775.9) scale(1.0214 1.0635)" font-family="Liberation Sans, sans-serif" font-size="29" fill="#737477" stroke="#737477" stroke-width="0.25" stroke-linejoin="round">0.20</text>
<text transform="translate(1493.88 775.9) scale(1.0227 1.0635)" font-family="Liberation Sans, sans-serif" font-size="29" fill="#737477" stroke="#737477" stroke-width="0.25" stroke-linejoin="round">0.25</text>
<text transform="translate(1594.3 775.9) scale(1.0214 1.0637)" font-family="Liberation Sans, sans-serif" font-size="29" fill="#737477" stroke="#737477" stroke-width="0.25" stroke-linejoin="round">0.30</text>
<text transform="translate(1694.72 775.9) scale(1.0227 1.0637)" font-family="Liberation Sans, sans-serif" font-size="29" fill="#737477" stroke="#737477" stroke-width="0.25" stroke-linejoin="round">0.35</text>
<text transform="translate(1262.38 804.8) scale(1.0140 1.0000)" font-family="Liberation Sans, sans-serif" font-size="29" fill="#f0ad4d" stroke="#f0ad4d" stroke-width="0.45" stroke-linejoin="round">ribosomal</text>
<text transform="translate(1395.55 804.8) scale(1.0142 1.0000)" font-family="Liberation Sans, sans-serif" font-size="29" fill="#58595b" stroke="#58595b" stroke-width="0.45" stroke-linejoin="round">proteome allocation</text>
<text transform="translate(1426.43 832.66) scale(1.2260 0.9741)" font-family="Liberation Sans, sans-serif" font-size="29" fill="#f0ad4d">ϕ</text>
<text transform="translate(1445.61 836.9) scale(1.0810 1.0169)" font-family="Liberation Sans, sans-serif" font-size="21" fill="#f0ad4d" stroke="#f0ad4d" stroke-width="0.3" stroke-linejoin="round">rib</text>
<text transform="translate(1124.4 569.53) rotate(-90) scale(0.9995 1.0000)" font-family="Liberation Sans, sans-serif" font-size="29" fill="#58595b" stroke="#58595b" stroke-width="0.45" stroke-linejoin="round">surface-to-volume [µm</text>
<text transform="translate(1114.3 279.76) rotate(-90) scale(0.9526 1.0329)" font-family="Liberation Sans, sans-serif" font-size="21" fill="#58595b" stroke="#58595b" stroke-width="0.3" stroke-linejoin="round">−1</text>
<text transform="translate(1122.63 254.91) rotate(-90) scale(0.9675 1.0036)" font-family="Liberation Sans, sans-serif" font-size="29" fill="#58595b" stroke="#58595b" stroke-width="0.45" stroke-linejoin="round">]</text>
<text transform="translate(1085.48 439.45) rotate(-90) scale(0.7725 1.0478)" font-family="Liberation Sans, sans-serif" font-size="29" fill="#58595b" stroke="#58595b" stroke-width="0.45" stroke-linejoin="round">S</text>
<text transform="translate(1089.85 423.6) rotate(-90) scale(0.9846 1.0020)" font-family="Liberation Sans, sans-serif" font-size="21" fill="#58595b" stroke="#58595b" stroke-width="0.3" stroke-linejoin="round">A</text>
<text transform="translate(1085.85 409.19) rotate(-90) scale(1.1372 1.0471)" font-family="Liberation Sans, sans-serif" font-size="29" fill="#58595b" stroke="#58595b" stroke-width="0.45" stroke-linejoin="round">/V</text>
</g>
</svg>
</body>
</html>
